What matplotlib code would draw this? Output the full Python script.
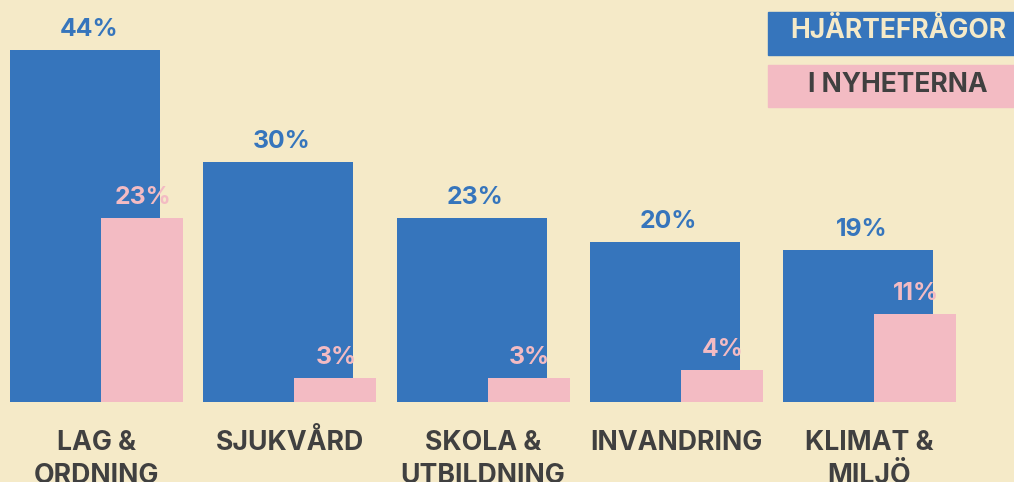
import matplotlib
matplotlib.use("Agg")
import matplotlib.pyplot as plt
from matplotlib.patches import Rectangle

categories = ["LAG &\nORDNING", "SJUKVÅRD", "SKOLA &\nUTBILDNING", "INVANDRING", "KLIMAT &\nMILJÖ"]
hjartefragor = [44, 30, 23, 20, 19]
nyheterna = [23, 3, 3, 4, 11]
legend_labels = ["HJÄRTEFRÅGOR", "I NYHETERNA"]

BG = "#F5EAC8"
BLUE = "#3675BC"
PINK = "#F3BBC3"
DARK = "#404040"

plt.rcParams["font.family"] = ["Inter", "DejaVu Sans"]

fig = plt.figure(figsize=(10.14, 4.82), dpi=100, facecolor=BG)
ax = fig.add_axes([0, 0, 1, 1])
ax.set_facecolor(BG)

step = 193.25  # px per category
px_per_unit = 8.0  # px per percentage point
blue_w = 150 / step
pink_off = 91 / step
pink_w = 82 / step
x = list(range(len(categories)))

ax.bar(x, hjartefragor, width=blue_w, align="edge", color=BLUE, zorder=2)
ax.bar([i + pink_off for i in x], nyheterna, width=pink_w, align="edge", color=PINK, zorder=3)

gap = 14 / px_per_unit
for i, v in enumerate(hjartefragor):
    ax.text(i + blue_w / 2 + 0.02, v + gap, f"{v}%", ha="center", va="baseline",
            color=BLUE, fontsize=17.8, fontweight="bold", zorder=4)
for i, v in enumerate(nyheterna):
    ax.text(i + pink_off + pink_w / 2 + 0.005, v + gap, f"{v}%", ha="center", va="baseline",
            color=PINK, fontsize=17.8, fontweight="bold", zorder=4)

# category labels centred under each pair, one text per line
group_c = (pink_off + pink_w) / 2
for i, lab in enumerate(categories):
    for j, line in enumerate(lab.split("\n")):
        ax.text(i + group_c, -(48 + 33 * j) / px_per_unit, line, ha="center", va="baseline",
                color=DARK, fontsize=19.2, fontweight="bold")

ax.set_xlim(-10 / step, (1014 - 10) / step)
ax.set_ylim(-80 / px_per_unit, 402 / px_per_unit)
ax.axis("off")

# legend boxes in figure pixels
for (y0, y1), base, lab, fc, tc in [((12, 55), 38, legend_labels[0], BLUE, BG),
                                    ((65, 107), 92, legend_labels[1], PINK, DARK)]:
    fig.patches.append(Rectangle((768 / 1014, 1 - y1 / 482), (1014 - 768) / 1014, (y1 - y0) / 482,
                                 transform=fig.transFigure, color=fc, zorder=5))
    fig.text(898 / 1014, 1 - base / 482, lab, ha="center", va="baseline", color=tc,
             fontsize=19, fontweight="bold", zorder=6)

fig.savefig("out.png", dpi=100, facecolor=BG)
